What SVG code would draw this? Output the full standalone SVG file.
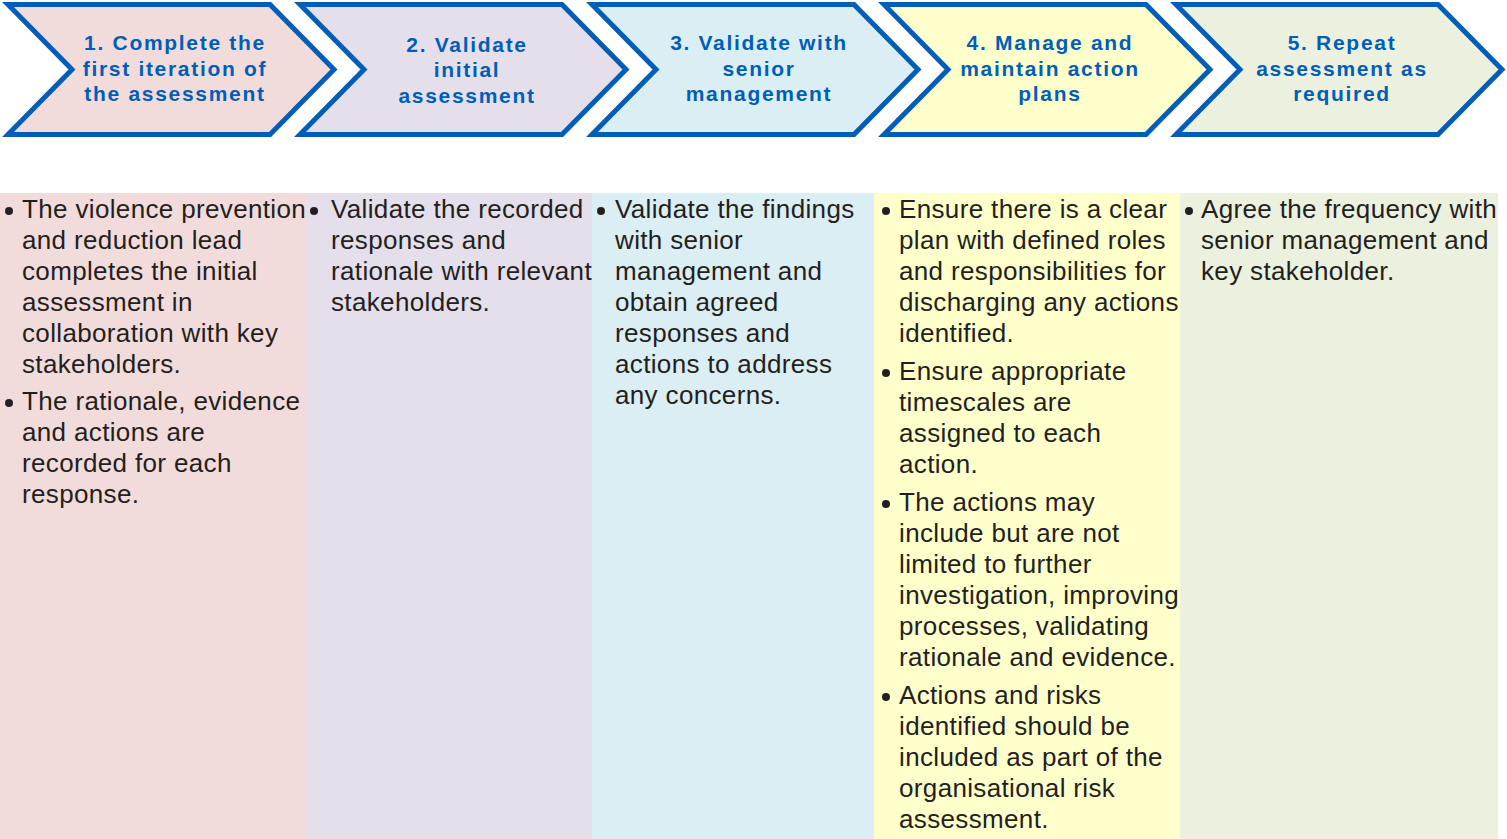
<svg xmlns="http://www.w3.org/2000/svg" width="1507" height="839" viewBox="0 0 1507 839">
<style>
.chev{stroke:#005EB8;stroke-width:5;stroke-linejoin:miter}
.ht{font-family:"Liberation Sans",Arial,sans-serif;font-weight:bold;font-size:21px;fill:#005EB8;text-anchor:middle;letter-spacing:1.7px}
.bt{font-family:"Liberation Sans",Arial,sans-serif;font-size:26px;fill:#231F20;letter-spacing:0.35px}
.bul{fill:#231F20}
</style>
<rect width="1507" height="839" fill="#FFFFFF"/>
<g id="columns">
<rect x="0" y="193" width="308" height="646" fill="#F2DCDB"/>
<rect x="308" y="193" width="284" height="646" fill="#E5DFEC"/>
<rect x="592" y="193" width="282" height="646" fill="#DBEEF3"/>
<rect x="874" y="193" width="306" height="646" fill="#FFFFCC"/>
<rect x="1180" y="193" width="318" height="646" fill="#EBF1DE"/>
</g>
<g id="step1">
<path class="chev" fill="#F2DCDB" d="M8,4.5 H270 L334,69.5 L270,134.5 H8 L72,69.5 Z"/>
<text class="ht" x="175" y="50">1. Complete the</text>
<text class="ht" x="175" y="76">first iteration of</text>
<text class="ht" x="175" y="101">the assessment</text>
</g>
<g id="step2">
<path class="chev" fill="#E5DFEC" d="M300,4.5 H562 L626,69.5 L562,134.5 H300 L364,69.5 Z"/>
<text class="ht" x="467" y="52">2. Validate</text>
<text class="ht" x="467" y="77">initial</text>
<text class="ht" x="467" y="103">assessment</text>
</g>
<g id="step3">
<path class="chev" fill="#DBEEF3" d="M592,4.5 H854 L918,69.5 L854,134.5 H592 L656,69.5 Z"/>
<text class="ht" x="759" y="50">3. Validate with</text>
<text class="ht" x="759" y="76">senior</text>
<text class="ht" x="759" y="101">management</text>
</g>
<g id="step4">
<path class="chev" fill="#FFFFCC" d="M884,4.5 H1146 L1210,69.5 L1146,134.5 H884 L948,69.5 Z"/>
<text class="ht" x="1050" y="50">4. Manage and</text>
<text class="ht" x="1050" y="76">maintain action</text>
<text class="ht" x="1050" y="101">plans</text>
</g>
<g id="step5">
<path class="chev" fill="#EBF1DE" d="M1176,4.5 H1438 L1502,69.5 L1438,134.5 H1176 L1240,69.5 Z"/>
<text class="ht" x="1342" y="50">5. Repeat</text>
<text class="ht" x="1342" y="76">assessment as</text>
<text class="ht" x="1342" y="101">required</text>
</g>
<g id="col1-text">
<circle class="bul" cx="9" cy="211" r="4"/>
<text class="bt" x="22" y="218">The violence prevention</text>
<text class="bt" x="22" y="249">and reduction lead</text>
<text class="bt" x="22" y="280">completes the initial</text>
<text class="bt" x="22" y="311">assessment in</text>
<text class="bt" x="22" y="342">collaboration with key</text>
<text class="bt" x="22" y="373">stakeholders.</text>
<circle class="bul" cx="9" cy="403" r="4"/>
<text class="bt" x="22" y="410">The rationale, evidence</text>
<text class="bt" x="22" y="441">and actions are</text>
<text class="bt" x="22" y="472">recorded for each</text>
<text class="bt" x="22" y="503">response.</text>
</g>
<g id="col2-text">
<circle class="bul" cx="314" cy="211" r="4"/>
<text class="bt" x="331" y="218">Validate the recorded</text>
<text class="bt" x="331" y="249">responses and</text>
<text class="bt" x="331" y="280">rationale with relevant</text>
<text class="bt" x="331" y="311">stakeholders.</text>
</g>
<g id="col3-text">
<circle class="bul" cx="601" cy="211" r="4"/>
<text class="bt" x="615" y="218">Validate the findings</text>
<text class="bt" x="615" y="249">with senior</text>
<text class="bt" x="615" y="280">management and</text>
<text class="bt" x="615" y="311">obtain agreed</text>
<text class="bt" x="615" y="342">responses and</text>
<text class="bt" x="615" y="373">actions to address</text>
<text class="bt" x="615" y="404">any concerns.</text>
</g>
<g id="col4-text">
<circle class="bul" cx="886" cy="211" r="4"/>
<text class="bt" x="899" y="218">Ensure there is a clear</text>
<text class="bt" x="899" y="249">plan with defined roles</text>
<text class="bt" x="899" y="280">and responsibilities for</text>
<text class="bt" x="899" y="311">discharging any actions</text>
<text class="bt" x="899" y="342">identified.</text>
<circle class="bul" cx="886" cy="373" r="4"/>
<text class="bt" x="899" y="380">Ensure appropriate</text>
<text class="bt" x="899" y="411">timescales are</text>
<text class="bt" x="899" y="442">assigned to each</text>
<text class="bt" x="899" y="473">action.</text>
<circle class="bul" cx="886" cy="504" r="4"/>
<text class="bt" x="899" y="511">The actions may</text>
<text class="bt" x="899" y="542">include but are not</text>
<text class="bt" x="899" y="573">limited to further</text>
<text class="bt" x="899" y="604">investigation, improving</text>
<text class="bt" x="899" y="635">processes, validating</text>
<text class="bt" x="899" y="666">rationale and evidence.</text>
<circle class="bul" cx="886" cy="697" r="4"/>
<text class="bt" x="899" y="704">Actions and risks</text>
<text class="bt" x="899" y="735">identified should be</text>
<text class="bt" x="899" y="766">included as part of the</text>
<text class="bt" x="899" y="797">organisational risk</text>
<text class="bt" x="899" y="828">assessment.</text>
</g>
<g id="col5-text">
<circle class="bul" cx="1189" cy="211" r="4"/>
<text class="bt" x="1201" y="218">Agree the frequency with</text>
<text class="bt" x="1201" y="249">senior management and</text>
<text class="bt" x="1201" y="280">key stakeholder.</text>
</g>
<g id="connectors"/>
</svg>
